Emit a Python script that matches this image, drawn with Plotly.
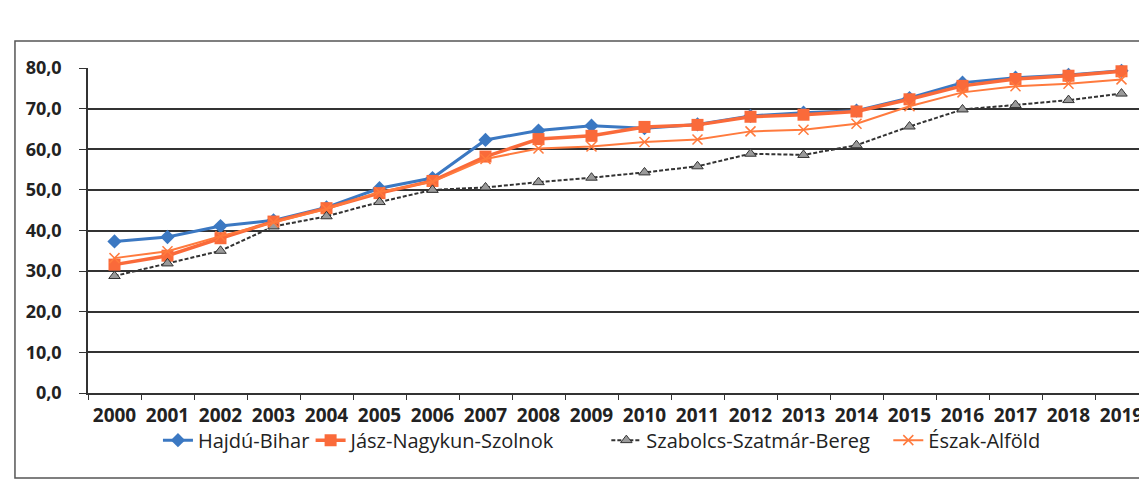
import plotly.graph_objects as go

years = [str(y) for y in range(2000, 2020)]
hajdu_bihar = [37.3, 38.4, 41.1, 42.5, 45.7, 50.4, 52.9, 62.3, 64.6, 65.8,
               65.2, 66.1, 68.2, 69.0, 69.5, 72.6, 76.4, 77.6, 78.3, 79.3]
jasz_nagykun_szolnok = [31.6, 33.8, 38.1, 42.2, 45.5, 49.2, 52.2, 58.2, 62.5, 63.3,
                        65.5, 66.0, 68.0, 68.5, 69.3, 72.3, 75.6, 77.3, 78.1, 79.2]
szabolcs = [28.8, 31.9, 35.0, 41.0, 43.5, 47.0, 50.0, 50.6, 51.9, 53.0,
            54.3, 55.8, 58.9, 58.6, 61.0, 65.6, 69.8, 70.9, 72.1, 73.7]
eszak_alfold = [33.2, 34.9, 38.6, 42.0, 45.3, 49.5, 52.0, 57.6, 60.2, 60.7,
                61.8, 62.4, 64.4, 64.8, 66.3, 70.6, 74.0, 75.5, 76.1, 77.2]
y_ticks = [0, 10, 20, 30, 40, 50, 60, 70, 80]

fig = go.Figure()
fig.add_trace(go.Scatter(
    x=years, y=hajdu_bihar, name="Hajdú-Bihar", mode="lines+markers",
    line=dict(color="#3B78C2", width=3),
    marker=dict(symbol="diamond", size=11, color="#3B78C2"),
    cliponaxis=False, legend="legend", showlegend=True))
fig.add_trace(go.Scatter(
    x=years, y=jasz_nagykun_szolnok, name="Jász-Nagykun-Szolnok", mode="lines+markers",
    line=dict(color="#FA6A3A", width=3.5),
    marker=dict(symbol="square", size=12, color="#FA6A3A"),
    cliponaxis=False, legend="legend2", showlegend=True))
fig.add_trace(go.Scatter(
    x=years, y=szabolcs, name="Szabolcs-Szatmár-Bereg", mode="lines+markers",
    line=dict(color="#333333", width=2, dash="4px,2px"),
    marker=dict(symbol="triangle-up", size=10, color="#9A9A9A",
                line=dict(color="#333333", width=1)),
    cliponaxis=False, legend="legend3", showlegend=True))
fig.add_trace(go.Scatter(
    x=years, y=eszak_alfold, name="Észak-Alföld", mode="lines+markers",
    line=dict(color="#FF7A3D", width=2),
    marker=dict(symbol="x-thin-open", size=10, color="#FF7A3D",
                line=dict(color="#FF7A3D", width=1.5)),
    cliponaxis=False, legend="legend4", showlegend=True))

leg_common = dict(orientation="h", y=-0.145, yanchor="middle", xanchor="left",
                  bgcolor="rgba(0,0,0,0)", borderwidth=0, visible=True,
                  font=dict(family="Open Sans", size=20, color="#222222"))
fig.update_layout(
    width=1147, height=482,
    margin=dict(l=80, r=7, t=60, b=97),
    paper_bgcolor="white", plot_bgcolor="white",
    separators=", ",
    showlegend=True,
    legend=dict(x=0.066, **leg_common),
    legend2=dict(x=0.210, **leg_common),
    legend3=dict(x=0.489, **leg_common),
    legend4=dict(x=0.755, **leg_common),
    xaxis=dict(type="category", range=[-0.5, 19.5], showgrid=False,
               showline=True, linecolor="#333333", linewidth=1.5,
               ticks="outside", ticklen=5, tickcolor="#333333", tickson="boundaries",
               ticklabelstandoff=4, tickangle=0,
               tickfont=dict(family="Open Sans", size=19, color="#222222", weight="bold")),
    yaxis=dict(range=[0, 80], tickvals=y_ticks, tickformat=".1f",
               showgrid=True, gridcolor="#333333", gridwidth=1.5,
               showline=True, linecolor="#333333", linewidth=1.5,
               ticks="outside", ticklen=7, tickcolor="#333333",
               zeroline=False, ticklabelstandoff=14,
               tickfont=dict(family="Open Sans", size=18, color="#222222", weight="bold")),
    shapes=[dict(type="rect", xref="paper", yref="paper",
                 x0=-0.0689, x1=1.006, y0=-0.2615, y1=1.083,
                 line=dict(color="#555555", width=1.5), layer="below")],
)

fig.write_html("out.html")
